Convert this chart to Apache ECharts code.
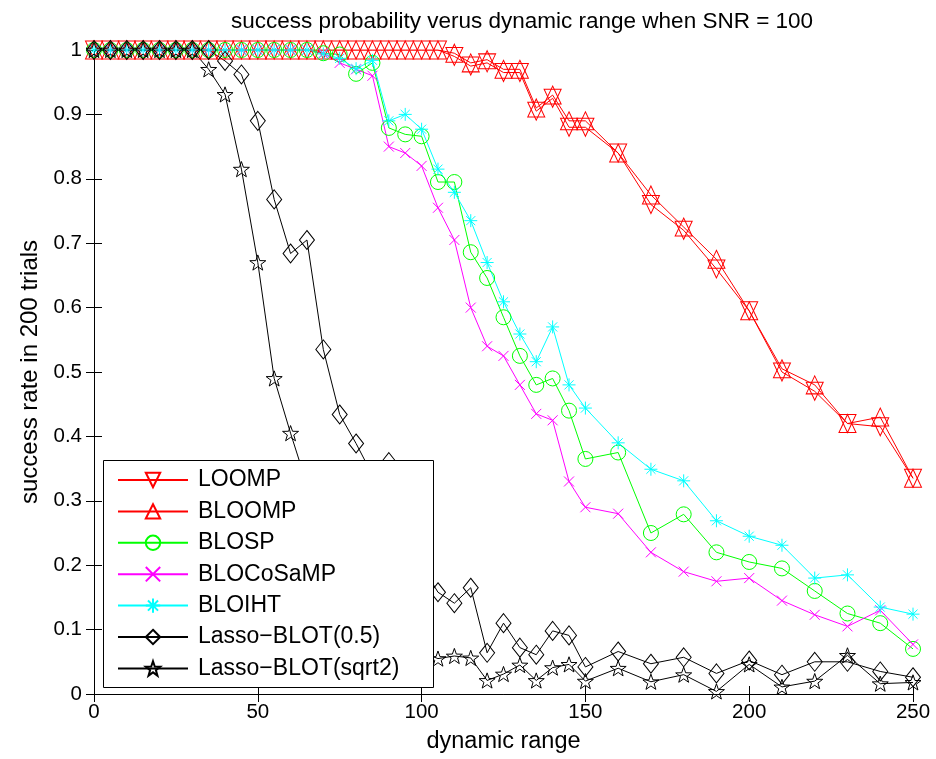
<!DOCTYPE html>
<html><head><meta charset="utf-8">
<script src="https://cdn.jsdelivr.net/npm/echarts@6/dist/echarts.min.js"></script>
<style>html,body{margin:0;padding:0;background:#fff}#c{width:936px;height:759px}</style>
</head><body><div id="c"></div>
<script>
const xs = [0,5,10,15,20,25,30,35,40,45,50,55,60,65,70,75,80,85,90,95,100,105,110,115,120,125,130,135,140,145,150,160,170,180,190,200,210,220,230,240,250];
const loomp = [1,1,1,1,1,1,1,1,1,1,1,1,1,1,1,1,1,1,1,1,1,1,0.99,0.975,0.98,0.965,0.965,0.905,0.925,0.88,0.88,0.84,0.76,0.72,0.66,0.595,0.5,0.47,0.42,0.415,0.335];
const bloomp = [1,1,1,1,1,1,1,1,1,1,1,1,1,1,1,1,1,1,1,1,1,1,0.995,0.98,0.985,0.97,0.97,0.91,0.93,0.89,0.89,0.84,0.775,0.725,0.675,0.595,0.505,0.48,0.42,0.43,0.335];
const blosp = [1,1,1,1,1,1,1,1,1,1,1,1,1,1,0.995,0.993,0.963,0.98,0.879,0.869,0.866,0.795,0.795,0.686,0.646,0.585,0.525,0.48,0.49,0.44,0.365,0.375,0.25,0.279,0.22,0.205,0.195,0.16,0.125,0.11,0.07];
const blocosamp = [1,1,1,1,1,1,1,1,1,1,1,1,1,1,0.995,0.98,0.97,0.96,0.85,0.84,0.82,0.755,0.705,0.6,0.54,0.525,0.48,0.435,0.425,0.33,0.29,0.28,0.22,0.19,0.175,0.18,0.145,0.123,0.105,0.13,0.077];
const bloiht = [1,1,1,1,1,1,1,1,1,1,1,1,1,1,0.994,0.987,0.971,0.984,0.89,0.9,0.877,0.815,0.779,0.735,0.67,0.609,0.559,0.516,0.57,0.48,0.444,0.39,0.349,0.331,0.269,0.245,0.231,0.18,0.185,0.135,0.124];
const lasso05 = [1,1,1,1,1,1,1,1,0.983,0.962,0.89,0.768,0.684,0.705,0.535,0.434,0.389,0.34,0.36,0.28,0.2,0.158,0.141,0.165,0.064,0.11,0.072,0.061,0.098,0.091,0.042,0.066,0.047,0.057,0.032,0.052,0.03,0.05,0.05,0.035,0.026];
const lassoSqrt2 = [1,1,1,1,1,1,1,0.97,0.931,0.815,0.67,0.49,0.405,0.325,0.27,0.22,0.17,0.13,0.1,0.08,0.065,0.055,0.059,0.056,0.021,0.031,0.045,0.021,0.041,0.046,0.02,0.04,0.019,0.03,0.004,0.046,0.011,0.02,0.06,0.016,0.018];
const seriesNames = ['LOOMP','BLOOMP','BLOSP','BLOCoSaMP','BLOIHT','Lasso\u2212BLOT(0.5)','Lasso\u2212BLOT(sqrt2)'];
const xTicks = [0,50,100,150,200,250];
const yTicks = [0,0.1,0.2,0.3,0.4,0.5,0.6,0.7,0.8,0.9,1];

const STAR = 'path://M7,0L8.646,4.735L13.657,4.837L9.663,7.865L11.115,12.663L7,9.8L2.885,12.663L4.337,7.865L0.343,4.837L5.354,4.735Z';
const XMARK = 'path://M0,0L10,10M10,0L0,10';
const AST = 'path://M0,6L12,6M6,0L6,12M1.8,1.8L10.2,10.2M10.2,1.8L1.8,10.2';
const FONT = 'Liberation Sans';

const styles = [
  {c:'#ff0000', sym:'triangle', size:[17,18], rot:180, keep:false},
  {c:'#ff0000', sym:'triangle', size:[17,18], rot:0, keep:false},
  {c:'#00ff00', sym:'circle', size:15, rot:0, keep:false},
  {c:'#ff00ff', sym:XMARK, size:10, rot:0, keep:false},
  {c:'#00ffff', sym:AST, size:13, rot:0, keep:false},
  {c:'#000000', sym:'diamond', size:[15,19], rot:0, keep:false},
  {c:'#000000', sym:STAR, size:16, rot:0, keep:true}
];
const vals = [loomp, bloomp, blosp, blocosamp, bloiht, lasso05, lassoSqrt2];

const series = vals.map((v, i) => ({
  name: seriesNames[i],
  type: 'line',
  data: xs.map((x, j) => [x, v[j]]),
  symbol: styles[i].sym,
  symbolSize: styles[i].size,
  symbolRotate: styles[i].rot,
  symbolKeepAspect: styles[i].keep,
  showSymbol: true,
  showAllSymbol: true,
  animation: false,
  lineStyle: {color: styles[i].c, width: 1},
  itemStyle: {color: 'rgba(255,255,255,0)', borderColor: styles[i].c, borderWidth: 1},
  emphasis: {disabled: true},
  z: 2
}));

const chart = echarts.init(document.getElementById('c'), null, {renderer: 'canvas'});
chart.setOption({
  animation: false,
  backgroundColor: '#fff',
  textStyle: {fontFamily: FONT},
  title: {
    text: 'success probability verus dynamic range when SNR = 100',
    left: 517, top: 5, textAlign: 'center',
    textStyle: {fontFamily: FONT, fontSize: 22.5, fontWeight: 'normal', color: '#000'}
  },
  grid: {left: 94, right: 23, top: 50, bottom: 62, containLabel: false},
  xAxis: [{
    type: 'value', min: 0, max: 250, interval: 50,
    name: 'dynamic range', nameLocation: 'middle', nameGap: 36,
    nameTextStyle: {fontFamily: FONT, fontSize: 23.5, color: '#000'},
    axisLine: {show: true, lineStyle: {color: '#000', width: 1}},
    axisTick: {show: true, inside: true, length: 8, lineStyle: {color: '#000'}},
    axisLabel: {fontFamily: FONT, fontSize: 20.5, color: '#000', margin: 8},
    splitLine: {show: false}
  }, {
    type: 'value', min: 0, max: 250, interval: 50, position: 'top',
    axisLine: {show: true, lineStyle: {color: '#000', width: 1}},
    axisTick: {show: true, inside: true, length: 8, lineStyle: {color: '#000'}},
    axisLabel: {show: false}, splitLine: {show: false}
  }],
  yAxis: [{
    type: 'value', min: 0, max: 1, interval: 0.1,
    name: 'success rate in 200 trials', nameLocation: 'middle', nameGap: 46,
    nameTextStyle: {fontFamily: FONT, fontSize: 24, color: '#000'},
    axisLine: {show: true, lineStyle: {color: '#000', width: 1}},
    axisTick: {show: true, inside: true, length: 8, lineStyle: {color: '#000'}},
    axisLabel: {fontFamily: FONT, fontSize: 20.5, color: '#000', margin: 12},
    splitLine: {show: false}
  }, {
    type: 'value', min: 0, max: 1, interval: 0.1, position: 'right',
    axisLine: {show: true, lineStyle: {color: '#000', width: 1}},
    axisTick: {show: true, inside: true, length: 8, lineStyle: {color: '#000'}},
    axisLabel: {show: false}, splitLine: {show: false}
  }],
  graphic: [{
    type: 'rect', left: 103, top: 460, z: 50, zlevel: 0,
    shape: {width: 330, height: 227},
    style: {fill: '#fff', stroke: '#000', lineWidth: 1}
  }],
  legend: {
    orient: 'vertical', left: 103, top: 460, z: 60,
    padding: [8.5, 30, 6.8, 14],
    itemWidth: 70, itemHeight: 18, itemGap: 8.4,
    selectedMode: false,
    textStyle: {fontFamily: FONT, fontSize: 23, lineHeight: 23, color: '#000', padding: [0, 0, 0, 5]},
    data: seriesNames
  },
  series: series
});
</script></body></html>
